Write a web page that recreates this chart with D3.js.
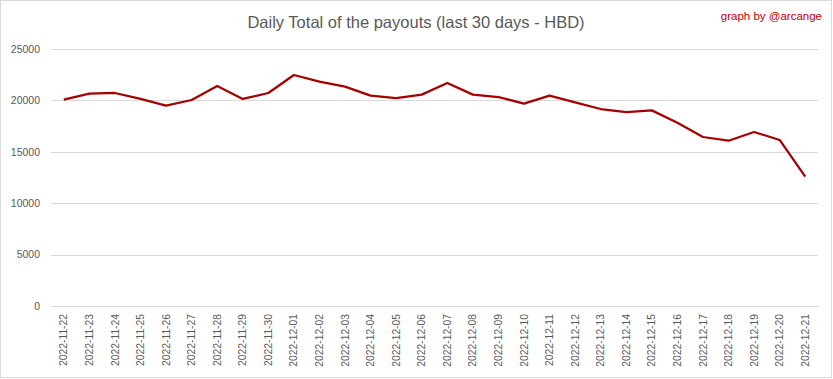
<!DOCTYPE html>
<html>
<head>
<meta charset="utf-8">
<script src="https://cdn.jsdelivr.net/npm/d3@7"></script>
<style>
  body { margin: 0; background: #fff; }
  svg { display: block; font-family: "Liberation Sans", Arial, sans-serif; }
  .axis text { fill: #595959; }
</style>
</head>
<body>
<div id="chart"></div>
<script>
// values
const days = [
  '2022-11-22', '2022-11-23', '2022-11-24', '2022-11-25', '2022-11-26', '2022-11-27',
  '2022-11-28', '2022-11-29', '2022-11-30', '2022-12-01', '2022-12-02', '2022-12-03',
  '2022-12-04', '2022-12-05', '2022-12-06', '2022-12-07', '2022-12-08', '2022-12-09',
  '2022-12-10', '2022-12-11', '2022-12-12', '2022-12-13', '2022-12-14', '2022-12-15',
  '2022-12-16', '2022-12-17', '2022-12-18', '2022-12-19', '2022-12-20', '2022-12-21'
];
const payouts = [
  20080, 20650, 20720, 20140, 19490, 20040,
  21400, 20140, 20720, 22470, 21820, 21340,
  20460, 20230, 20560, 21690, 20560, 20330,
  19680, 20460, 19810, 19160, 18870, 19030,
  17830, 16440, 16080, 16930, 16150, 12580
];
const yTicks = [0, 5000, 10000, 15000, 20000, 25000];

const width = 833;
const height = 379;

const svg = d3.select('#chart').append('svg')
  .attr('width', width)
  .attr('height', height);

// outer frame
svg.append('rect')
  .attr('x', 0.5).attr('y', 0.5)
  .attr('width', width - 2).attr('height', height - 2)
  .attr('fill', '#fff')
  .attr('stroke', '#d9d9d9');

const x = d3.scaleBand()
  .domain(days)
  .range([51, 818]);

const y = d3.scaleLinear()
  .domain([0, 25000])
  .range([306, 49]);

// gridlines
svg.append('g')
  .selectAll('line')
  .data(yTicks)
  .join('line')
  .attr('x1', 51).attr('x2', 818)
  .attr('y1', d => Math.round(y(d)) + 0.5)
  .attr('y2', d => Math.round(y(d)) + 0.5)
  .attr('stroke', '#d9d9d9')
  .attr('stroke-width', 1);

// y axis labels
const yAxis = svg.append('g')
  .attr('class', 'axis')
  .attr('transform', 'translate(44,0)')
  .call(d3.axisLeft(y).tickValues(yTicks).tickSize(0).tickPadding(4).tickFormat(d3.format('d')));
yAxis.select('.domain').remove();
yAxis.selectAll('text').attr('font-size', '10.5px').attr('font-family', '"Liberation Sans", Arial, sans-serif');

// x axis labels (rotated)
const xAxis = svg.append('g')
  .attr('class', 'axis')
  .attr('transform', 'translate(0,306)')
  .call(d3.axisBottom(x).tickSize(0));
xAxis.select('.domain').remove();
xAxis.selectAll('text')
  .attr('font-size', '10.3px')
  .attr('font-family', '"Liberation Sans", Arial, sans-serif')
  .attr('transform', 'rotate(-90)')
  .attr('text-anchor', 'end')
  .attr('x', -8)
  .attr('y', 0)
  .attr('dy', '0.35em');

// the line
const line = d3.line()
  .x((d, i) => x(days[i]) + x.bandwidth() / 2)
  .y(d => y(d));

svg.append('path')
  .datum(payouts)
  .attr('fill', 'none')
  .attr('stroke', '#a50000')
  .attr('stroke-width', 2.25)
  .attr('stroke-linejoin', 'round')
  .attr('d', line);

// title
svg.append('text')
  .attr('x', 416)
  .attr('y', 28)
  .attr('text-anchor', 'middle')
  .attr('fill', '#595959')
  .attr('font-size', '16.5px')
  .text('Daily Total of the payouts (last 30 days - HBD)');

svg.append('text')
  .attr('x', 822)
  .attr('y', 20)
  .attr('text-anchor', 'end')
  .attr('fill', '#c00000')
  .attr('font-size', '11.5px')
  .text('graph by @arcange');
</script>
</body>
</html>
